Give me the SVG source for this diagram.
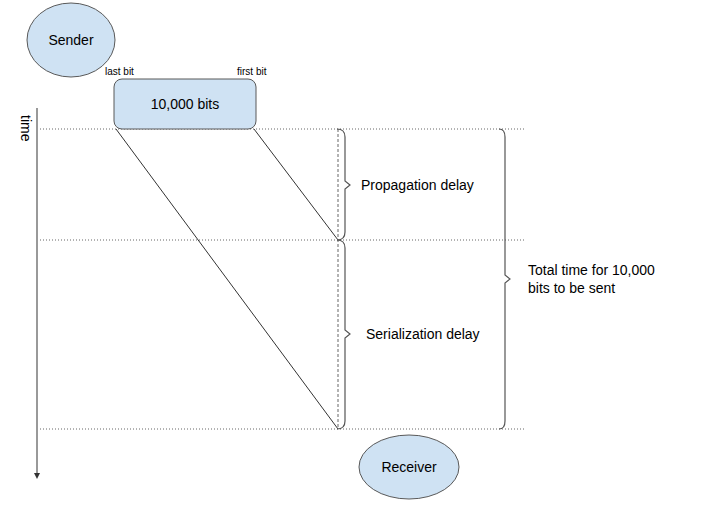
<svg xmlns="http://www.w3.org/2000/svg" width="710" height="508" viewBox="0 0 710 508">
<style>
.node{fill:#cfe2f3;stroke:#595959;stroke-width:1}
.t{font-family:"Liberation Sans",Arial,sans-serif;fill:#000}
.dot{stroke:#666;stroke-width:1;stroke-dasharray:1,2;fill:none}
.ln{stroke:#333;stroke-width:1;fill:none}
.br{stroke:#555;stroke-width:1.2;fill:none}
</style>
<defs>
<marker id="ah" viewBox="0 0 10 10" refX="5" refY="5" markerWidth="3" markerHeight="3" orient="auto"><path d="M0,0 L10,5 L0,10 z" fill="#333"/></marker>
</defs>
<rect width="710" height="508" fill="#fff"/>
<g id="connectors">
<line x1="37" y1="108" x2="37" y2="476" stroke="#999" stroke-width="2" marker-end="url(#ah)"/>
<line class="dot" x1="40" y1="129" x2="526" y2="129"/>
<line class="dot" x1="40" y1="240" x2="526" y2="240"/>
<line class="dot" x1="40" y1="429" x2="526" y2="429"/>
<line class="ln" x1="116" y1="129" x2="338" y2="429"/>
<line class="ln" x1="254" y1="129" x2="338" y2="240"/>
<line x1="338" y1="129" x2="338" y2="429" stroke="#666" stroke-width="1" stroke-dasharray="3,2"/>
<path class="br" d="M337,129 Q345,129 345,137 L345,181 L350,185 L345,189 L345,232 Q345,240 337,240"/>
<path class="br" d="M337,240 Q345,240 345,248 L345,330 L350,334 L345,338 L345,421 Q345,429 337,429"/>
<path class="br" d="M499,129 Q505,129 505,137 L505,275 L510,279 L505,283 L505,421 Q505,429 499,429"/>
</g>
<text class="t" x="21" y="115" font-size="14" transform="rotate(90 21 115)">time</text>
<g id="sender">
<ellipse class="node" cx="71" cy="40" rx="44" ry="37"/>
<text class="t" x="71" y="45" font-size="14" text-anchor="middle">Sender</text>
</g>
<g id="bits">
<rect class="node" x="114" y="79" width="142" height="50" rx="8"/>
<text class="t" x="185" y="109" font-size="14" text-anchor="middle">10,000 bits</text>
<text class="t" x="105" y="75" font-size="10">last bit</text>
<text class="t" x="237" y="75" font-size="10">first bit</text>
</g>
<g id="receiver">
<ellipse class="node" cx="409" cy="467" rx="50" ry="32"/>
<text class="t" x="409" y="472" font-size="14" text-anchor="middle">Receiver</text>
</g>
<g id="labels">
<text class="t" x="361" y="190" font-size="14">Propagation delay</text>
<text class="t" x="366" y="339" font-size="14">Serialization delay</text>
<text class="t" x="528" y="275" font-size="14">Total time for 10,000</text>
<text class="t" x="528" y="293" font-size="14">bits to be sent</text>
</g>
</svg>
